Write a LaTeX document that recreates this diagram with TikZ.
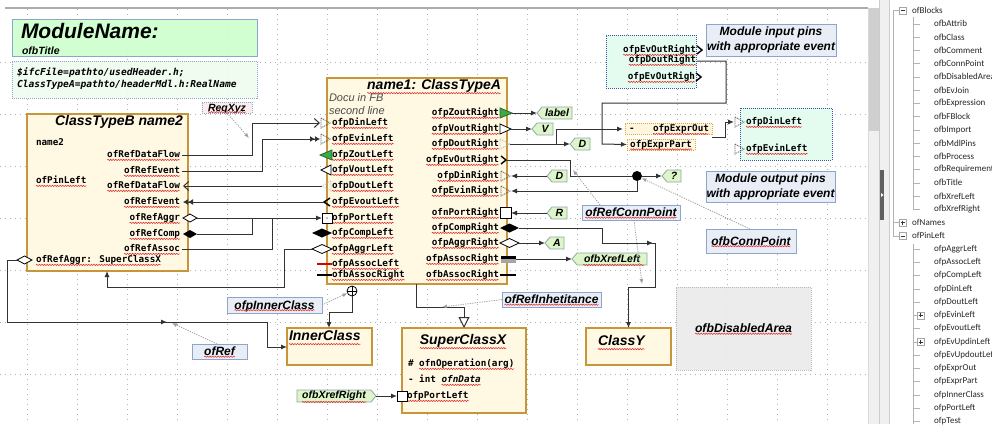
\documentclass[tikz,border=0pt]{standalone}
\usepackage{fontspec}
\setmainfont{Liberation Sans}
\newfontfamily\monof{DejaVu Sans Mono}
\newfontfamily\treef{Carlito}
\usetikzlibrary{arrows.meta,shapes.symbols,shapes.geometric,decorations.markings,decorations.pathmorphing,calc}
\definecolor{cbfill}{HTML}{FFF8E3}
\definecolor{cbdraw}{HTML}{C8963A}
\definecolor{ttlfill}{HTML}{CCFFCC}
\definecolor{bluegray}{HTML}{8DA5CC}
\definecolor{cmtfill}{HTML}{E9EEF6}
\definecolor{ifcfill}{HTML}{EEFCEE}
\definecolor{mdlfill}{HTML}{E4FBF0}
\definecolor{mdldraw}{HTML}{3F4FA8}
\definecolor{flagfill}{HTML}{DDF5C8}
\definecolor{flagdraw}{HTML}{8FA8A8}
\definecolor{exfill}{HTML}{FFF6DE}
\definecolor{exdraw}{HTML}{E3A23A}
\definecolor{zgreen}{HTML}{3DAA4A}
\definecolor{lnk}{HTML}{333333}
\definecolor{reqfill}{HTML}{FBEDED}
\definecolor{disfill}{HTML}{EBEBEB}
\definecolor{gridc}{HTML}{B0B0B0}
\definecolor{squigc}{HTML}{E03030}
\tikzset{
  every node/.style={inner sep=0pt, outer sep=0pt},
  sq/.style={append after command={([yshift=-0.6pt]\tikzlastnode.south west) edge[squigc, line width=0.55pt, decorate, decoration={snake, amplitude=0.65pt, segment length=2.6pt}] ([yshift=-0.6pt]\tikzlastnode.south east)}},
  pin/.style={font=\monof\bfseries\fontsize{9.3}{10}\selectfont, text=black, text height=6.8pt, text depth=1.8pt},
  spin/.style={pin, sq},
  classbox/.style={draw=cbdraw, fill=cbfill, line width=1.5pt, anchor=north west},
  ctitle/.style={font=\bfseries\itshape\fontsize{14}{16}\selectfont, text height=10pt, text depth=3pt},
  cmt/.style={draw=bluegray, fill=cmtfill, line width=0.9pt, anchor=north west, font=\bfseries\itshape\fontsize{12}{15}\selectfont, align=center},
  cmttext/.style={font=\bfseries\itshape\fontsize{12}{15}\selectfont, text height=8.7pt, text depth=0.5pt, sq},
  flagW/.style={shape=signal, signal to=west, signal pointer angle=100, draw=flagdraw, fill=flagfill, line width=0.8pt, font=\bfseries\itshape\fontsize{10.5}{12}\selectfont, minimum height=12pt, inner xsep=1pt, anchor=west},
  flagE/.style={flagW, signal to=east, anchor=east},
  conn/.style={draw=lnk, line width=1pt},
  arr/.style={conn, -{Latex[length=6pt,width=5pt]}},
  refarr/.style={draw=gray!75, line width=0.8pt, dash pattern=on 1.2pt off 1.2pt, -{Latex[length=5pt,width=4pt]}},
  dashpin/.style={draw=black!80, line width=0.7pt, dash pattern=on 1pt off 1pt},
  openpin/.style={draw=black, fill=white, line width=0.8pt},
  dotbox/.style={dash pattern=on 1pt off 1pt, line width=0.9pt, anchor=north west},
}
\begin{document}
\begin{tikzpicture}[x=1pt,y=-1pt]
\useasboundingbox (0,0) rectangle (992,424);
\fill[white] (0,0) rectangle (992,424);
% grid
\foreach \gx in {27,77,...,827} \draw[gridc, line width=0.7pt, dash pattern=on 1pt off 4pt] (\gx,9) -- (\gx,424);
\foreach \gy in {62,114,...,426} \draw[gridc, line width=0.7pt, dash pattern=on 1pt off 4pt] (0,\gy) -- (868,\gy);
% canvas frame, scrollbar, splitter
\draw[gray!65, line width=1.5pt] (5,8) -- (868,8);
\draw[gray!30] (868.5,8) -- (868.5,424);
\fill[gray!12] (869,8) rectangle (879,424);
\fill[gray!38] (869,8) rectangle (879,131);
\fill[gray!12] (879,0) rectangle (890,424);
\draw[gray!40] (879.5,0) -- (879.5,424) (889.5,0) -- (889.5,424);
\fill[gray!75!black] (880,170) rectangle (884,220);
\fill[white] (881,193) -- (883.5,195) -- (881,197) -- cycle;

% ===== Title and header comment
\node[draw=bluegray, fill=ttlfill, fill opacity=0.9, line width=1pt, minimum width=245pt, minimum height=37pt, anchor=north west] (ttl) at (12,19) {};
\node[anchor=base west, font=\bfseries\itshape\fontsize{21}{24}\selectfont] (ttlname) at (21,38.5) {ModuleName:};
\node[anchor=base west, font=\bfseries\itshape\fontsize{10.5}{12}\selectfont] (ttlsub) at (22,54) {ofbTitle};
\node[draw=bluegray, fill=ifcfill, fill opacity=0.9, dotbox, minimum width=245pt, minimum height=37pt] (ifc) at (12,61) {};
\node[anchor=west, font=\monof\bfseries\itshape\fontsize{9.6}{11}\selectfont] (ifc1) at (17,73) {\$ifcFile=pathto/usedHeader.h;};
\node[anchor=west, font=\monof\bfseries\itshape\fontsize{9.6}{11}\selectfont] (ifc2) at (17,85) {ClassTypeA=pathto/headerMdl.h:RealName};
\node[draw=bluegray, fill=reqfill, dotbox, minimum width=50pt, minimum height=11pt] (req) at (202,102) {};
\node[font=\bfseries\itshape\fontsize{10.5}{12}\selectfont, text height=7.6pt, text depth=0.5pt, sq] (reqt) at (req.center) {ReqXyz};

% ===== ClassTypeB
\node[classbox, minimum width=161pt, minimum height=157pt] (B) at (27,114) {};
\node[ctitle, anchor=east] (Bt) at (183,122) {ClassTypeB name2};
\node[pin, anchor=west] (Bn) at (36,143) {name2};
\node[spin, anchor=west] (Bp) at (36,181) {ofPinLeft};
\node[spin, anchor=east] (b1) at (180,155) {ofRefDataFlow};
\node[spin, anchor=east] (b2) at (180,171) {ofRefEvent};
\node[spin, anchor=east] (b3) at (180,186) {ofRefDataFlow};
\node[spin, anchor=east] (b4) at (180,202) {ofRefEvent};
\node[spin, anchor=east] (b5) at (180,218) {ofRefAggr};
\node[spin, anchor=east] (b6) at (180,234) {ofRefComp};
\node[spin, anchor=east] (b7) at (180,249) {ofRefAssoc};
\node[spin, anchor=west] (b8) at (36,260) {ofRefAggr: SuperClassX};
\coordinate (bDF1) at (182,155);
\coordinate (bEv1) at (182,171);
\coordinate (bDF2) at (183,186);
\coordinate (bEv2) at (183,202);
\coordinate (bAg) at (197,218);
\coordinate (bCo) at (197,234);
\coordinate (bAs) at (182,249);
\coordinate (bSup) at (17,260);
\coordinate (bBot) at (107,271);
\draw[openpin] (183,218) -- (190,214) -- (197,218) -- (190,222) -- cycle;
\fill[black] (183,234) -- (190,230) -- (197,234) -- (190,238) -- cycle;
\draw[openpin] (17,260) -- (24.5,256) -- (32,260) -- (24.5,264) -- cycle;

% ===== name1: ClassTypeA
\node[classbox, minimum width=180pt, minimum height=206pt] (A) at (327,78) {};
\node[ctitle, anchor=east, sq] (At) at (501,86) {name1: ClassTypeA};
\node[anchor=west, font=\itshape\fontsize{11}{12}\selectfont, text=black!70] (Ad1) at (329,98) {Docu in FB};
\node[anchor=west, font=\itshape\fontsize{11}{12}\selectfont, text=black!70] (Ad2) at (329,111) {second line};
\node[spin, anchor=west] (l1) at (332,123) {ofpDinLeft};
\node[spin, anchor=west] (l2) at (332,139) {ofpEvinLeft};
\node[spin, anchor=west] (l3) at (332,155) {ofpZoutLeft};
\node[spin, anchor=west] (l4) at (332,170) {ofpVoutLeft};
\node[spin, anchor=west] (l5) at (332,186) {ofpDoutLeft};
\node[spin, anchor=west] (l6) at (332,202) {ofpEvoutLeft};
\node[spin, anchor=west] (l7) at (332,218) {ofpPortLeft};
\node[spin, anchor=west] (l8) at (332,233) {ofpCompLeft};
\node[spin, anchor=west] (l9) at (332,249) {ofpAggrLeft};
\node[spin, anchor=west] (l10) at (332,264) {ofpAssocLeft};
\node[spin, anchor=west] (l11) at (332,275) {ofbAssocRight};
\node[spin, anchor=east] (r1) at (499,113) {ofpZoutRight};
\node[spin, anchor=east] (r2) at (499,129) {ofpVoutRight};
\node[spin, anchor=east] (r3) at (499,144) {ofpDoutRight};
\node[spin, anchor=east] (r4) at (499,160) {ofpEvOutRight};
\node[spin, anchor=east] (r5) at (499,176) {ofpDinRight};
\node[spin, anchor=east] (r6) at (499,191) {ofpEvinRight};
\node[spin, anchor=east] (r7) at (499,213) {ofnPortRight};
\node[spin, anchor=east] (r8) at (499,228) {ofpCompRight};
\node[spin, anchor=east] (r9) at (499,243) {ofpAggrRight};
\node[spin, anchor=east] (r10) at (499,259) {ofpAssocRight};
\node[spin, anchor=east] (r11) at (499,275) {ofbAssocRight};
% left pin symbols
\draw[dashpin] (321,118) -- (330,123) -- (321,128) -- cycle;
\draw[dashpin] (321,134) -- (330,139) -- (321,144) -- cycle;
\draw[fill=zgreen, draw=zgreen!60!black, line width=0.8pt] (332,150) -- (320,155) -- (332,160) -- cycle;
\draw[openpin] (331,165) -- (321,170) -- (331,175) -- cycle;
\draw[draw=gray!60, line width=0.7pt, dash pattern=on 1pt off 1pt] (331,181) -- (322,186) -- (331,191) -- cycle;
\draw[black, line width=1.4pt] (330,198) -- (324,202) -- (330,206);
\draw[openpin] (322,213) rectangle (332,223);
\fill[black] (327,218) circle (0.6);
\fill[black] (312,233) -- (322,228.5) -- (332,233) -- (322,237.5) -- cycle;
\draw[openpin] (312,249) -- (322,244.5) -- (332,249) -- (322,253.5) -- cycle;
\draw[red!85!black, line width=1.8pt] (317,264) -- (332,264);
\draw[black, line width=2.5pt] (317,275) -- (332,275);
\coordinate (aDin) at (320,123);
\coordinate (aEvin) at (320,139);
\coordinate (aDout) at (322,186);
\coordinate (aEvout) at (324,202);
\coordinate (aPort) at (322,218);
\coordinate (aAgg) at (312,249);
% right pin symbols
\draw[fill=zgreen, draw=zgreen!60!black, line width=0.8pt] (500,108) -- (512,113) -- (500,118) -- cycle;
\draw[openpin] (500,124) -- (511,129) -- (500,134) -- cycle;
\draw[draw=gray!60, line width=0.7pt, dash pattern=on 1pt off 1pt] (500,139) -- (510,144) -- (500,149) -- cycle;
\draw[black, line width=1.4pt] (501,156) -- (506,160) -- (501,164);
\draw[dashpin] (501,171) -- (510,176) -- (501,181) -- cycle;
\draw[dashpin] (501,186) -- (510,191) -- (501,196) -- cycle;
\draw[openpin] (500,207.5) rectangle (511,218.5);
\fill[black] (500,228) -- (509.5,223.5) -- (519,228) -- (509.5,232.5) -- cycle;
\draw[openpin] (500,243) -- (509.5,238.5) -- (519,243) -- (509.5,247.5) -- cycle;
\fill[black] (501,255.5) rectangle (516,259);
\fill[gray!70] (501,259) rectangle (516,262.5);
\draw[black, line width=2.5pt] (500,275) -- (516,275);
\coordinate (aZoR) at (512,113);
\coordinate (aVoR) at (511,129);
\coordinate (aDoR) at (510,144);
\coordinate (aEvOR) at (507,160);
\coordinate (aDinR) at (511,176);
\coordinate (aEvinR) at (511,191);
\coordinate (aPortR) at (511,213);
\coordinate (aCoR) at (519,228);
\coordinate (aAgR) at (519,243);
\coordinate (aAsR) at (516,259);
\coordinate (aBot) at (416,284);
\coordinate (brD) at (556,144);

% ===== other class boxes
\node[classbox, minimum width=85pt, minimum height=37pt] (IC) at (287,328) {};
\node[ctitle, anchor=west, sq] (ICt) at (289,337) {InnerClass};
\node[classbox, minimum width=85pt, minimum height=37pt] (Y) at (586,328) {};
\node[ctitle, anchor=west, sq] (Yt) at (598,342) {ClassY};
\node[classbox, minimum width=124pt, minimum height=85pt] (S) at (402,328) {};
\node[ctitle, sq] (St) at (463,341) {SuperClassX};
\node[pin, anchor=west] (s1a) at (408,364) {\#};
\node[spin, anchor=west] (s1) at (419.2,364) {ofnOperation(arg)};
\node[pin, anchor=west] (s2a) at (408,380) {-};
\node[pin, anchor=west] (s2b) at (419.2,380) {int};
\node[spin, anchor=west] (s2) at (441.6,380) {\textit{ofnData}};
\node[spin, anchor=west] (s3) at (407,396) {ofpPortLeft};
\draw[openpin] (397,391) rectangle (407,401);
\coordinate (sPort) at (397,396);
\coordinate (icTop) at (329,328);
\coordinate (icL) at (287,347);

% ===== flags
\node[flagW, minimum width=35pt] (fLabel) at (537,113) {label};
\node[flagW, minimum width=21pt] (fV) at (532,129) {V};
\node[flagW, minimum width=20pt] (fD1) at (570,144) {D};
\node[flagW, minimum width=20pt] (fD2) at (547,176) {D};
\node[flagW, minimum width=19pt] (fQ) at (662,176) {?};
\node[flagW, minimum width=20pt] (fR) at (547,213) {R};
\node[flagW, minimum width=19pt] (fA) at (545,243) {A};
\node[flagW, minimum width=75pt] (fXL) at (572,259) {ofbXrefLeft};
\node[flagE, minimum width=79pt] (fXR) at (376,396) {ofbXrefRight};
\draw[squigc, line width=0.55pt, decorate, decoration={snake, amplitude=0.65pt, segment length=2.6pt}] (583,265) -- (644,265);
\draw[squigc, line width=0.55pt, decorate, decoration={snake, amplitude=0.65pt, segment length=2.6pt}] (302,402) -- (366,402);
\node[circle, fill=black, minimum size=10pt] (dot) at (637,176) {};

% ===== module pins and expression
\node[draw=mdldraw, fill=mdlfill, dotbox, minimum width=90pt, minimum height=53pt] (M) at (606,35) {};
\node[spin, anchor=east] (m1) at (696,50) {ofpEvOutRight};
\node[spin, anchor=east] (m2) at (696,60) {ofpDoutRight};
\node[spin, anchor=east] (m3) at (695,77) {ofpEvOutRigh};
\draw[black, line width=1.4pt] (697,46) -- (702,50) -- (697,54);
\draw[black, line width=1.4pt] (696,73) -- (701,77) -- (696,81);
\coordinate (mDo) at (697,61);
\node[draw=exdraw, fill=exfill, dotbox, minimum width=87pt, minimum height=11pt] (exOut) at (625,123) {};
\node[pin, anchor=west] (exm) at (629,129) {-};
\node[spin, anchor=east] (ext) at (709,129) {ofpExprOut};
\node[draw=exdraw, fill=exfill, dotbox, minimum width=68pt, minimum height=11pt] (exPart) at (627,139) {};
\node[spin] (exPt) at (exPart.center) {ofpExprPart};
\coordinate (exO) at (712,137);
\node[draw=mdldraw, fill=mdlfill, dotbox, minimum width=92pt, minimum height=52pt] (O) at (740,108) {};
\node[spin, anchor=west] (o1) at (746,122) {ofpDinLeft};
\node[spin, anchor=west] (o2) at (746,149) {ofpEvinLeft};
\draw[dashpin] (735,117) -- (744,122) -- (735,127) -- cycle;
\draw[dashpin] (735,144) -- (744,149) -- (735,154) -- cycle;
\coordinate (oDin) at (734,122);

% ===== comments
\node[cmt, minimum width=130pt, minimum height=32pt] (cIn) at (706,24) {Module input pins\\with appropriate event};
\node[cmt, minimum width=129pt, minimum height=31pt] (cOut) at (706,171) {Module output pins\\with appropriate event};
\node[cmt, minimum width=98pt, minimum height=15pt] (cRCP) at (582,205) {};
\node[cmttext] (cRCPt) at (cRCP.center) {ofRefConnPoint};
\node[cmt, minimum width=90pt, minimum height=24pt] (cCP) at (706,229) {};
\node[cmttext] (cCPt) at (cCP.center) {ofbConnPoint};
\node[cmt, minimum width=95pt, minimum height=16pt] (cIC) at (227,297) {};
\node[cmttext] (cICt) at (cIC.center) {ofpInnerClass};
\node[cmt, minimum width=55pt, minimum height=15pt] (cRef) at (192,344) {};
\node[cmttext] (cReft) at (cRef.center) {ofRef};
\node[cmt, minimum width=99pt, minimum height=15pt] (cInh) at (502,292) {};
\node[cmttext] (cInht) at (cInh.center) {ofRefInhetitance};
\node[draw=gray!55, fill=disfill, fill opacity=0.9, dotbox, minimum width=135pt, minimum height=83pt] (dis) at (676,287) {};
\node[font=\bfseries\itshape\fontsize{12.2}{14}\selectfont, text height=8.8pt, text depth=0.5pt, sq] (dist) at (dis.center) {ofbDisabledArea};

% ===== connectors, left side
\draw[conn, -{Straight Barb[length=5pt,width=9pt]}] (bDF1) -- (252,155) -- (252,123) -- (aDin);
\draw[conn, -{Latex[length=5pt,width=6pt]Latex[length=5pt,width=6pt]}] (bEv1) -- (262,171) -- (262,139) -- (aEvin);
\draw[conn, {Straight Barb[length=5pt,width=9pt]}-] (bDF2) -- (aDout);
\draw[conn, {Latex[length=5pt,width=6pt]Latex[length=5pt,width=6pt]}-] (bEv2) -- (aEvout);
\draw[arr] (bAg) -- (aPort);
\draw[conn] (bCo) -- (252,234) -- (252,218);
\draw[conn] (bAs) -- (272,249) -- (272,218);
\draw[arr] (aAgg) -- (284,249) -- (284,287) -- (107,287) -- (bBot);
\draw[arr, postaction={decorate}, decoration={markings, mark=at position 232pt with {\arrow{Latex[length=6pt,width=5pt]}}}] (bSup) -- (7,260) -- (7,322) -- (267,322) -- (267,347) -- (icL);
% inner class
\node[circle, draw=black, fill=white, line width=0.8pt, minimum size=10pt] (oplus) at (352,291) {};
\draw[black, line width=0.8pt] (oplus.north) -- (oplus.south) (oplus.west) -- (oplus.east);
\draw[arr] (oplus.south) -- (352,312) -- (329,312) -- (icTop);
% inheritance
\draw[conn, -{Triangle[open, length=11pt, width=11pt, fill=white]}] (aBot) -- (416,307) -- (464,307) -- (S.north);
\draw[arr] (fXR.east) -- (sPort);

% ===== connectors, right side
\draw[arr] (aZoR) -- (fLabel.west);
\draw[arr] (aVoR) -- (fV.west);
\draw[arr] (aDoR) -- (fD1.west);
\draw[arr] (brD) -- (556,129) -- (623,129);
\draw[conn] (aEvOR) -- (570,160) -- (570,176) -- (dot);
\draw[arr] (dot) -- (fQ.west);
\draw[arr] (fD2.west) -- (aDinR);
\draw[arr] (dot) -- (637,191) -- (aEvinR);
\draw[arr] (fR.west) -- (aPortR);
\draw[arr, postaction={decorate}, decoration={markings, mark=at position 149pt with {\arrow{Latex[length=6pt,width=5pt]}}}] (aCoR) -- (602,228) -- (602,243) -- (655,243) -- (655,287) -- (628.5,287) -- (Y.north);
\draw[arr] (aAgR) -- (fA.west);
\draw[arr] (aAsR) -- (fXL.west);
\draw[arr] (mDo) -- (726,61) -- (726,103) -- (602,103) -- (602,144) -- (exPart.west);
\draw[arr] (exO) -- (725,137) -- (725,122) -- (oDin);

% ===== reference arrows
\draw[refarr] (req.south) -- (249,138);
\draw[refarr] ([xshift=18pt]cRCP.north west) -- (573,170);
\draw[refarr] ([xshift=52pt]cRCP.south west) -- (642,284);
\draw[refarr] ([xshift=44pt]cCP.north west) -- (dot);
\draw[refarr] (cIC.east) -- (oplus);
\draw[refarr] ([xshift=25pt]cRef.north west) -- (172,323);
\draw[refarr] (cInh.west) -- (442,307);

% ===== tree panel
\begin{scope}[every node/.style={inner sep=0pt, anchor=west, font=\treef\fontsize{9}{10}\selectfont, text=black!85}]
\draw[gray!60] (893,10.5) -- (893,237);
\draw[gray!60] (913,17) -- (913,209) (913,244) -- (913,424);
\node (t0) at (912,10.5) {ofBlocks};
\draw[gray!60] (893,10.5) -- (899,10.5);
\draw[gray!70, fill=white] (899,7) rectangle (906,14); \draw[black!80] (900.5,10.5) -- (904.5,10.5);
\foreach \t [count=\i] in {ofbAttrib,ofbClass,ofbComment,ofbConnPoint,ofbDisabledArea,ofbEvJoin,ofbExpression,ofbFBlock,ofbImport,ofbMdlPins,ofbProcess,ofbRequirement,ofbTitle,ofbXrefLeft,ofbXrefRight} {
  \node at (934,10.5+13.25*\i) {\t};
  \draw[gray!60] (913,10.5+13.25*\i) -- (920,10.5+13.25*\i);
}
\node (t16) at (912,222.5) {ofNames};
\draw[gray!60] (893,222.5) -- (899,222.5);
\draw[gray!70, fill=white] (899,219) rectangle (906,226); \draw[black!80] (900.5,222.5) -- (904.5,222.5) (902.5,220.5) -- (902.5,224.5);
\node (t17) at (912,235.75) {ofPinLeft};
\draw[gray!60] (893,235.75) -- (899,235.75);
\draw[gray!70, fill=white] (899,232.25) rectangle (906,239.25); \draw[black!80] (900.5,235.75) -- (904.5,235.75);
\foreach \t [count=\i] in {ofpAggrLeft,ofpAssocLeft,ofpCompLeft,ofpDinLeft,ofpDoutLeft,ofpEvinLeft,ofpEvoutLeft,ofpEvUpdinLeft,ofpEvUpdoutLeft,ofpExprOut,ofpExprPart,ofpInnerClass,ofpPortLeft,ofpTest} {
  \node at (934,235.75+13.25*\i) {\t};
  \draw[gray!60] (913,235.75+13.25*\i) -- (920,235.75+13.25*\i);
}
\foreach \i in {6,8} {
  \draw[gray!70, fill=white] (917,232.25+13.25*\i) rectangle (924,239.25+13.25*\i);
  \draw[black!80] (918.5,235.75+13.25*\i) -- (922.5,235.75+13.25*\i) (920.5,233.75+13.25*\i) -- (920.5,237.75+13.25*\i);
}
\end{scope}
\end{tikzpicture}
\end{document}
